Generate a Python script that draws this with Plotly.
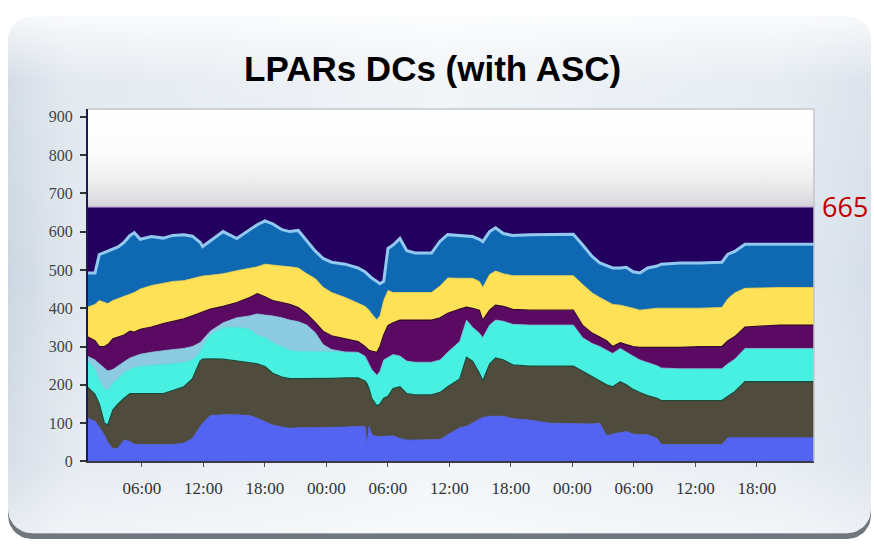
import numpy as np
import plotly.graph_objects as go

# ---------------- data ----------------
times = [
    "2020-01-01 00:44", "2020-01-01 01:25", "2020-01-01 01:50", "2020-01-01 02:20", "2020-01-01 02:40",
    "2020-01-01 03:10", "2020-01-01 03:40", "2020-01-01 04:15", "2020-01-01 04:50", "2020-01-01 05:15",
    "2020-01-01 05:50", "2020-01-01 06:55", "2020-01-01 08:05", "2020-01-01 09:00", "2020-01-01 10:05",
    "2020-01-01 10:55", "2020-01-01 11:40", "2020-01-01 11:55", "2020-01-01 12:40", "2020-01-01 13:55",
    "2020-01-01 15:15", "2020-01-01 16:30", "2020-01-01 17:15", "2020-01-01 18:00", "2020-01-01 18:45",
    "2020-01-01 19:40", "2020-01-01 20:25", "2020-01-01 21:15", "2020-01-01 22:05", "2020-01-01 22:55",
    "2020-01-01 23:40", "2020-01-02 00:30", "2020-01-02 01:50", "2020-01-02 03:05", "2020-01-02 03:45",
    "2020-01-02 03:57", "2020-01-02 04:09", "2020-01-02 04:25", "2020-01-02 04:55", "2020-01-02 05:13",
    "2020-01-02 05:35", "2020-01-02 06:00", "2020-01-02 06:30", "2020-01-02 07:10", "2020-01-02 07:50",
    "2020-01-02 08:40", "2020-01-02 10:15", "2020-01-02 11:05", "2020-01-02 11:50", "2020-01-02 13:00",
    "2020-01-02 13:40", "2020-01-02 14:15", "2020-01-02 14:55", "2020-01-02 15:15", "2020-01-02 15:55",
    "2020-01-02 16:30", "2020-01-02 17:15", "2020-01-02 18:10", "2020-01-02 19:50", "2020-01-02 21:50",
    "2020-01-03 00:05", "2020-01-03 01:00", "2020-01-03 01:55", "2020-01-03 02:40", "2020-01-03 03:20",
    "2020-01-03 03:55", "2020-01-03 04:40", "2020-01-03 05:15", "2020-01-03 05:55", "2020-01-03 06:35",
    "2020-01-03 07:20", "2020-01-03 08:15", "2020-01-03 08:40", "2020-01-03 10:30", "2020-01-03 12:25",
    "2020-01-03 14:35", "2020-01-03 15:10", "2020-01-03 15:50", "2020-01-03 16:50", "2020-01-03 20:15",
    "2020-01-03 23:34",
]

# cumulative top of each stacked layer (bottom -> top)
blue_top = [113, 105, 90, 69, 50, 33, 35, 56, 52, 45, 44, 44, 44, 44, 48, 60, 90, 100, 120, 122,
            122, 120, 113, 105, 95, 90, 87, 88, 88, 88, 88, 89, 90, 92, 92, 40, 92, 70, 65, 65,
            66, 67, 67, 60, 56, 56, 56, 57, 70, 88, 92, 100, 110, 115, 118, 118, 118, 112, 108, 100,
            98, 98, 98, 100, 67, 72, 75, 78, 72, 70, 70, 60, 44, 44, 44, 44, 62, 62, 62, 62, 62]
olive_top = [193, 175, 150, 100, 95, 135, 150, 165, 177, 177, 177, 177, 177, 185, 195, 215, 262, 267, 268, 267,
             262, 258, 255, 248, 230, 220, 216, 216, 216, 216, 216, 217, 218, 218, 210, 203, 190, 165, 145, 150,
             165, 170, 190, 195, 177, 174, 174, 180, 195, 215, 272, 262, 230, 210, 254, 270, 265, 252, 249, 249,
             249, 235, 222, 210, 200, 195, 208, 200, 188, 180, 172, 165, 159, 159, 159, 159, 170, 182, 208, 208, 208]
cyan_top = [262, 240, 210, 190, 185, 205, 215, 232, 240, 245, 248, 250, 252, 255, 258, 265, 285, 300, 330, 349,
            350, 345, 330, 323, 310, 300, 290, 287, 286, 286, 286, 286, 286, 285, 275, 265, 255, 240, 225, 235,
            265, 272, 279, 275, 262, 259, 259, 265, 285, 313, 369, 350, 335, 323, 356, 369, 366, 358, 356, 356,
            356, 323, 308, 300, 290, 282, 295, 285, 275, 265, 258, 250, 244, 242, 242, 242, 255, 267, 295, 295, 295]
sky_top = [274, 265, 255, 245, 236, 240, 250, 260, 270, 275, 280, 285, 290, 292, 295, 300, 310, 318, 340, 362,
           375, 380, 385, 382, 380, 375, 369, 365, 356, 336, 305, 292, 286, 285, 275, 265, 255, 240, 225, 235,
           265, 272, 279, 275, 262, 259, 259, 265, 285, 313, 369, 350, 335, 323, 356, 369, 366, 358, 356, 356,
           356, 323, 308, 300, 290, 282, 295, 285, 275, 265, 258, 250, 244, 242, 242, 242, 255, 267, 295, 295, 295]
purple_top = [325, 315, 300, 300, 305, 320, 325, 330, 340, 338, 345, 351, 360, 365, 372, 380, 388, 390, 398, 405,
              415, 428, 438, 430, 420, 415, 410, 402, 385, 362, 340, 328, 320, 313, 300, 295, 290, 288, 285, 300,
              330, 355, 362, 369, 369, 369, 369, 375, 387, 398, 403, 400, 395, 369, 395, 408, 405, 397, 395, 395,
              395, 355, 335, 325, 315, 300, 310, 305, 300, 298, 298, 297, 297, 298, 300, 300, 315, 326, 351, 356, 356]
yellow_top = [403, 410, 420, 415, 412, 420, 425, 430, 435, 441, 450, 459, 465, 470, 472, 478, 482, 484, 486, 490,
              498, 505, 508, 515, 512, 510, 508, 505, 490, 477, 455, 441, 428, 413, 405, 400, 395, 385, 370, 380,
              420, 446, 441, 441, 441, 441, 441, 458, 479, 478, 477, 478, 470, 454, 488, 497, 490, 485, 485, 485,
              485, 462, 440, 428, 418, 410, 408, 405, 400, 395, 398, 400, 400, 400, 400, 402, 425, 440, 452, 454, 454]
steel_top = [492, 492, 540, 545, 548, 555, 560, 572, 590, 597, 580, 587, 583, 590, 592, 588, 572, 561, 575, 600,
             582, 605, 618, 628, 620, 605, 600, 603, 575, 549, 530, 520, 515, 505, 495, 490, 485, 479, 470, 464,
             470, 556, 565, 582, 550, 544, 544, 575, 592, 590, 587, 587, 580, 574, 600, 610, 595, 590, 592, 593,
             593, 565, 535, 518, 510, 505, 505, 507, 495, 492, 505, 510, 515, 518, 518, 520, 541, 548, 567, 567, 567]
capacity = 665
navy_top = [capacity] * len(times)
y_max = 920

layers = [
    # (name, tops, fill colour, edge colour, edge width)
    ("Blue", blue_top, "#5363f2", "#4b5be6", 0.8),
    ("Olive", olive_top, "#504c3d", "#1f4a3a", 1.3),
    ("Cyan", cyan_top, "#48f0e2", "#3fe4d6", 0.8),
    ("Sky", sky_top, "#8ccbe2", "#86c3da", 0.8),
    ("Purple", purple_top, "#5b0a63", "#33082e", 1.2),
    ("Yellow", yellow_top, "#ffe158", "#f2d44a", 0.8),
    ("Steel", steel_top, "#0f69b2", "#93c9f1", 3.0),
    ("Navy", navy_top, "#230060", "#c6b6de", 1.5),
]

# layout is designed on an 874 x 549 canvas; the figure fills the whole window
W, H = 874, 549
L, R, T, B = 88, 814, 110, 469   # plot area on that canvas

fig = go.Figure()

# ---------------- decorative rounded panel (background subplot in canvas units) ----------------
def rounded_rect(x0, y0, x1, y1, r, n=12):
    xs, ys = [], []
    corners = [(x1 - r, y0 + r, -90, 0), (x1 - r, y1 - r, 0, 90),
               (x0 + r, y1 - r, 90, 180), (x0 + r, y0 + r, 180, 270)]
    for cx, cy, a0, a1 in corners:
        a = np.radians(np.linspace(a0, a1, n))
        xs += list(cx + r * np.cos(a))
        ys += list(cy + r * np.sin(a))
    xs.append(xs[0]); ys.append(ys[0])
    return xs, ys

sx, sy = rounded_rect(8, 22, 871, 548, 24)
fig.add_trace(go.Scatter(x=sx, y=sy, fill="toself", fillcolor="#6f767e", mode="lines",
                         line=dict(width=0), hoverinfo="skip", showlegend=False, xaxis="x", yaxis="y"))
px_, py_ = rounded_rect(8, 16, 871, 542, 24)
fig.add_trace(go.Scatter(x=px_, y=py_, fill="toself", mode="lines", line=dict(width=0),
                         fillgradient=dict(type="horizontal", start=8, stop=871,
                                           colorscale=[[0, "#cdd7e2"], [0.07, "#dfe6ee"], [0.5, "#eff3f7"],
                                                       [0.9, "#e2e9f0"], [1, "#d6dfe9"]]),
                         hoverinfo="skip", showlegend=False, xaxis="x", yaxis="y"))
fig.add_trace(go.Scatter(x=px_, y=py_, fill="toself", mode="lines", line=dict(width=0),
                         fillgradient=dict(type="vertical", start=16, stop=542,
                                           colorscale=[[0, "rgba(255,255,255,0.8)"], [0.12, "rgba(255,255,255,0.15)"],
                                                       [0.5, "rgba(255,255,255,0)"], [0.85, "rgba(255,255,255,0.2)"],
                                                       [1, "rgba(255,255,255,0.6)"]]),
                         hoverinfo="skip", showlegend=False, xaxis="x", yaxis="y"))

# ---------------- stacked areas ----------------
for i, (name, tops, fc, lc, lw) in enumerate(layers):
    fig.add_trace(go.Scatter(
        x=times, y=tops, name=name, mode="lines",
        line=dict(color=lc, width=lw),
        fill="tozeroy" if i == 0 else "tonexty", fillcolor=fc,
        showlegend=False, xaxis="x2", yaxis="y2"))

# headroom gradient above the capacity line
fig.add_trace(go.Scatter(
    x=times, y=[y_max] * len(times), mode="lines", line=dict(width=0),
    fill="tonexty",
    fillgradient=dict(type="vertical", start=capacity, stop=y_max,
                      colorscale=[[0, "#d0d0d5"], [0.1, "#dfdfe2"], [0.3, "#efefef"],
                                  [0.55, "#fbfbfb"], [1, "#ffffff"]]),
    hoverinfo="skip", showlegend=False, xaxis="x2", yaxis="y2"))

fig.update_layout(
    autosize=True, margin=dict(l=0, r=0, t=0, b=0),
    paper_bgcolor="white", plot_bgcolor="rgba(0,0,0,0)",
    xaxis=dict(domain=[0, 1], range=[0, W], visible=False, fixedrange=True),
    yaxis=dict(domain=[0, 1], range=[H, 0], visible=False, fixedrange=True),
    xaxis2=dict(domain=[L / W, R / W], anchor="y2", type="date",
                range=["2020-01-01 00:44", "2020-01-03 23:34"],
                tickformat="%H:%M", dtick=6 * 3600 * 1000, tick0="2020-01-01 00:00",
                showgrid=False, zeroline=False, showline=True, linecolor="#3a3a4a", linewidth=1.5,
                ticks="outside", ticklen=4, tickcolor="#555",
                tickfont=dict(family="Liberation Serif, Times New Roman, serif", size=17, color="#333"),
                ticklabelstandoff=6),
    yaxis2=dict(domain=[(H - B) / H, (H - T) / H], anchor="x2", range=[0, y_max],
                tickvals=[0, 100, 200, 300, 400, 500, 600, 700, 800, 900],
                showgrid=False, zeroline=False, showline=True, linecolor="#1c1c4c", linewidth=2,
                ticks="outside", ticklen=6, tickcolor="#333", tickwidth=1.5,
                tickfont=dict(family="Liberation Serif, Times New Roman, serif", size=16, color="#444"),
                ticklabelstandoff=4),
    shapes=[
        dict(type="line", xref="x2 domain", yref="y2 domain", x0=0, x1=1, y0=1, y1=1,
             line=dict(color="#c4c4c8", width=1.5), layer="above"),
        dict(type="line", xref="x2 domain", yref="y2 domain", x0=1, x1=1, y0=0, y1=1,
             line=dict(color="#c4c4c8", width=1.5), layer="above"),
    ],
    annotations=[
        dict(text="<b>LPARs DCs (with ASC)</b>", xref="x", yref="y",
             x=432, y=69, xanchor="center", yanchor="middle", showarrow=False,
             font=dict(family="Liberation Sans, Arial, sans-serif", size=35, color="#000")),
        dict(text=str(capacity), xref="x", yref="y2", x=845, y=capacity,
             xanchor="center", yanchor="middle", showarrow=False,
             font=dict(family="Open Sans, Liberation Sans, sans-serif", size=27, color="#c00000")),
    ],
)

# figure fills the browser window exactly (no page margin, no mode bar)
fig.write_html(
    "out.html",
    config={"displayModeBar": False, "responsive": True},
    default_width="100vw", default_height="100vh",
    post_script=("document.body.style.margin='0px';"
                 "document.body.style.overflow='hidden';"
                 "Plotly.Plots.resize(document.getElementById('{plot_id}'));"),
)
